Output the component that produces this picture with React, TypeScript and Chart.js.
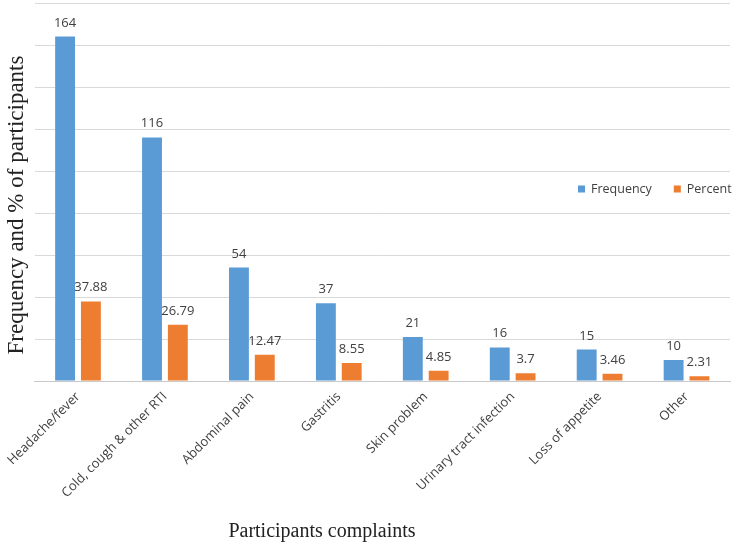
import React, { useEffect, useRef } from "react";
import { Chart, registerables } from "chart.js";

Chart.register(...registerables);

const categories = [
  "Headache/fever",
  "Cold, cough & other RTI",
  "Abdominal pain",
  "Gastritis",
  "Skin problem",
  "Urinary tract infection",
  "Loss of appetite",
  "Other",
];
const frequency = [164, 116, 54, 37, 21, 16, 15, 10];
const percent = [37.88, 26.79, 12.47, 8.55, 4.85, 3.7, 3.46, 2.31];
const seriesNames = ["Frequency", "Percent"];
const yTitle = "Frequency and % of participants";
const xTitle = "Participants complaints";

const BLUE = "#5B9BD5";
const ORANGE = "#ED7D31";
const SANS = "'Open Sans', Lato, sans-serif";
const SERIF = "'Liberation Serif', 'DejaVu Serif', serif";

const dataLabels = {
  id: "dataLabels",
  afterDatasetsDraw(chart: any) {
    const ctx = chart.ctx;
    ctx.save();
    ctx.font = `13px ${SANS}`;
    ctx.fillStyle = "#404040";
    ctx.textAlign = "center";
    ctx.textBaseline = "alphabetic";
    chart.data.datasets.forEach((ds: any, i: number) => {
      const meta = chart.getDatasetMeta(i);
      meta.data.forEach((el: any, j: number) => {
        ctx.fillText(String(ds.data[j]), el.x, el.y - 10);
      });
    });
    ctx.restore();
  },
};

const customText = {
  id: "customText",
  afterDraw(chart: any) {
    const ctx = chart.ctx;
    ctx.save();
    // legend
    ctx.font = `12.5px ${SANS}`;
    ctx.textBaseline = "middle";
    ctx.textAlign = "left";
    let x = 578;
    const y = 189;
    chart.data.datasets.forEach((ds: any) => {
      ctx.fillStyle = ds.backgroundColor;
      ctx.fillRect(x, y - 3.5, 7, 7);
      ctx.fillStyle = "#404040";
      ctx.fillText(ds.label, x + 13, y);
      x += 13 + ctx.measureText(ds.label).width + 22;
    });
    // axis titles
    ctx.fillStyle = "#222";
    ctx.font = `20px ${SERIF}`;
    ctx.textAlign = "center";
    ctx.textBaseline = "alphabetic";
    ctx.fillText(xTitle, 322, 537);
    ctx.translate(23, 205);
    ctx.rotate(-Math.PI / 2);
    ctx.font = `23px ${SERIF}`;
    ctx.fillText(yTitle, 0, 0);
    ctx.restore();
  },
};

export default function App() {
  const ref = useRef<HTMLCanvasElement | null>(null);
  useEffect(() => {
    document.body.style.margin = "0";
    const chart = new Chart(ref.current as HTMLCanvasElement, {
      type: "bar",
      data: {
        labels: categories,
        datasets: [
          { label: seriesNames[0], data: frequency, backgroundColor: BLUE },
          { label: seriesNames[1], data: percent, backgroundColor: ORANGE },
        ],
      },
      options: {
        animation: false,
        responsive: false,
        devicePixelRatio: 1,
        layout: { padding: { left: 0, right: 5, top: 3, bottom: 0 } },
        datasets: {
          bar: { categoryPercentage: 0.594, barPercentage: 0.77 },
        },
        plugins: {
          legend: { display: false },
          tooltip: { enabled: false },
        },
        scales: {
          x: {
            grid: { display: false, drawTicks: false },
            border: { display: true, color: "#c8c8c8" },
            ticks: {
              maxRotation: 45,
              minRotation: 45,
              padding: 8,
              color: "#404040",
              font: { family: SANS, size: 13 },
            },
            afterFit: (s: any) => {
              s.height = 542 - 381;
            },
          },
          y: {
            min: 0,
            max: 180,
            ticks: { display: false, stepSize: 20 },
            grid: { color: "#d9d9d9", drawTicks: false },
            border: { display: false },
            afterFit: (s: any) => {
              s.width = 30;
            },
          },
        },
      },
      plugins: [dataLabels, customText],
    } as any);
    return () => chart.destroy();
  }, []);
  return <canvas ref={ref} width={735} height={542} style={{ display: "block" }} />;
}
